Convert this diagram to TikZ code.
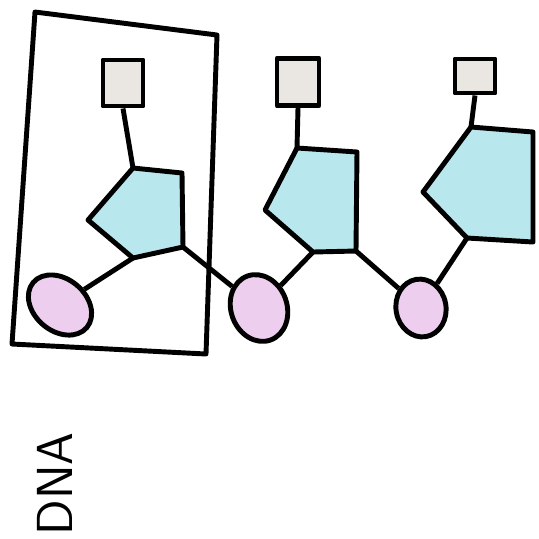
\documentclass[tikz,border=0pt]{standalone}
\usepackage{tikz}
\usetikzlibrary{%
  shapes.geometric,%
}
\definecolor{sugarblue}{RGB}{184,232,238}
\definecolor{basepink}{RGB}{238,206,238}
\definecolor{phosgrey}{RGB}{234,231,227}

\begin{document}
\begin{tikzpicture}[x=0.01cm, y=-0.01cm, line width=1.4pt, line join=round,
    phos/.style={draw, fill=phosgrey, rectangle, inner sep=0pt},
    base/.style={draw, fill=basepink, ellipse, inner sep=0pt},
    sugar/.style={draw, fill=sugarblue}]

      \useasboundingbox (0, 0) rectangle (539, 538);

      % frame round the first nucleotide
      \draw (35, 12) -- (217, 35) -- (206, 354) -- (12, 344) -- cycle;

      % first nucleotide
      \node[phos, minimum width=0.4cm, minimum height=0.46cm] (s1) at (123, 83) {};
      \coordinate (p1a) at (133, 168);
      \coordinate (p1b) at (182, 173);
      \coordinate (p1c) at (183, 247);
      \coordinate (p1d) at (133, 258);
      \coordinate (p1e) at (88, 220);
      \draw [sugar] (p1a) -- (p1b) -- (p1c) -- (p1d) -- (p1e) -- cycle;
      \node[base, minimum width=0.7cm, minimum height=0.52cm, rotate=-40] (e1) at (60, 305) {};

      % second nucleotide
      \node[phos, minimum width=0.42cm, minimum height=0.47cm] (s2) at (298, 82) {};
      \coordinate (p2a) at (297, 148);
      \coordinate (p2b) at (357, 152);
      \coordinate (p2c) at (356, 251);
      \coordinate (p2d) at (313, 252);
      \coordinate (p2e) at (265, 210);
      \draw [sugar] (p2a) -- (p2b) -- (p2c) -- (p2d) -- (p2e) -- cycle;
      \node[base, minimum width=0.56cm, minimum height=0.68cm, rotate=20] (e2) at (259, 308) {};

      % third nucleotide
      \node[phos, minimum width=0.4cm, minimum height=0.34cm] (s3) at (475, 76) {};
      \coordinate (p3a) at (471, 127);
      \coordinate (p3b) at (533, 132);
      \coordinate (p3c) at (533, 242);
      \coordinate (p3d) at (467, 238);
      \coordinate (p3e) at (423, 192);
      \draw [sugar] (p3a) -- (p3b) -- (p3c) -- (p3d) -- (p3e) -- cycle;
      \node[base, minimum width=0.5cm, minimum height=0.58cm, rotate=10] (e3) at (421, 308) {};

      % bonds
      \draw (s1.south) -- (p1a);
      \draw (p1d) -- (e1);
      \draw (p1c) -- (e2);
      \draw (s2.south) -- (p2a);
      \draw (p2d) -- (e2);
      \draw (p2c) -- (e3);
      \draw (s3.south) -- (p3a);
      \draw (p3d) -- (e3);

      \node[rotate=90, font=\sffamily\Large] (lbl) at (55, 484) {DNA};

    \end{tikzpicture}
\end{document}
